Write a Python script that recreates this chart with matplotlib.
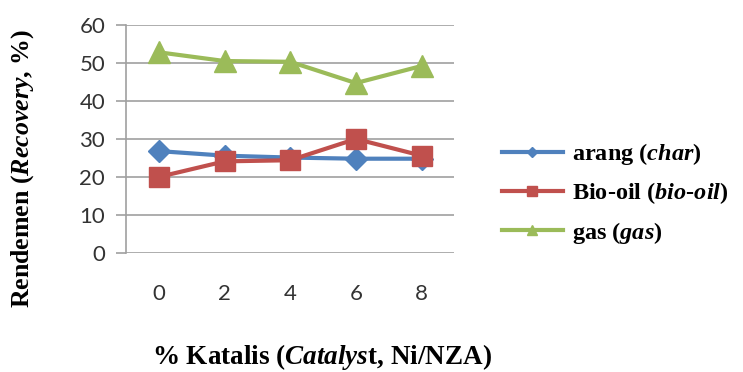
import numpy as np
import matplotlib.pyplot as plt

# data
katalis = ['0', '2', '4', '6', '8']
arang = [26.8, 25.6, 25.1, 24.8, 24.8]
bio_oil = [20.0, 24.1, 24.4, 30.0, 25.6]
gas = [52.8, 50.5, 50.3, 44.7, 49.2]

plt.rcParams['mathtext.fontset'] = 'custom'
plt.rcParams['mathtext.rm'] = 'Liberation Serif:bold'
plt.rcParams['mathtext.it'] = 'Liberation Serif:italic:bold'
plt.rcParams['mathtext.bf'] = 'Liberation Serif:bold'

serif = dict(family='Liberation Serif', weight='bold')

fig = plt.figure(figsize=(7.43, 3.72), dpi=100)
ax = fig.add_axes([0.1696, 0.320, 0.442, 0.613])

x = np.arange(len(katalis))
ax.plot(x, arang, color='#4F81BD', lw=3, marker='D', ms=11, label=r'arang ($\mathit{char}$)', zorder=3)
ax.plot(x, bio_oil, color='#C0504D', lw=3, marker='s', ms=15, label=r'Bio-oil ($\mathit{bio\text{-}oil}$)', zorder=4)
ax.plot(x, gas, color='#9BBB59', lw=3, marker='^', ms=16, label=r'gas ($\mathit{gas}$)', zorder=3)

ax.set_xlim(-0.5, 4.5)
ax.set_ylim(0, 60)
ax.set_yticks(range(0, 61, 10))
ax.set_xticks(x)
ax.set_xticklabels(katalis)
ax.grid(axis='y', color='#A0A0A0', lw=1.2)
ax.set_axisbelow(True)
for s in ['top', 'right', 'bottom']:
    ax.spines[s].set_visible(False)
ax.spines['left'].set_color('#A0A0A0')
ax.spines['left'].set_linewidth(1.2)
ax.tick_params(axis='y', length=7, color='#A0A0A0', width=1.2, labelsize=16, labelcolor='#333333', pad=8)
ax.tick_params(axis='x', length=0, labelsize=16, labelcolor='#333333', pad=22)
for lab in ax.get_xticklabels() + ax.get_yticklabels():
    lab.set_fontfamily('Lato')

fig.text(0.03, 0.548, r'Rendemen ($\mathit{Recovery}$, %)', rotation=90, ha='center', va='center', fontsize=18.6, **serif)
fig.text(0.433, 0.04, r'% Katalis ($\mathit{Catalys}$t, Ni/NZA)', ha='center', va='center', fontsize=19.5, **serif)

leg = fig.legend(loc='center left', bbox_to_anchor=(0.646, 0.48), frameon=False,
                 prop=dict(family='Liberation Serif', weight='bold', size=17.5),
                 markerscale=0.45, handlelength=2.5, labelspacing=0.55, handletextpad=0.4)

plt.savefig('out.png', dpi=100)
